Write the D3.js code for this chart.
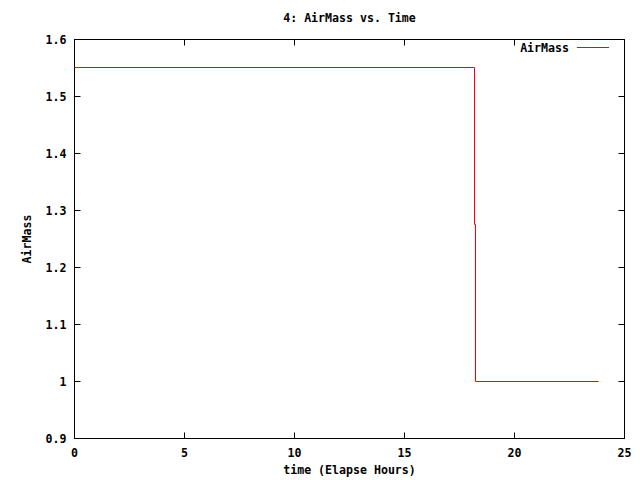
<!DOCTYPE html>
<html><head><meta charset="utf-8">
<script src="https://cdn.jsdelivr.net/npm/d3@7"></script>
<style>body{margin:0;background:#fff}svg{display:block}text{font-family:"DejaVu Sans Mono",monospace;font-weight:bold;font-size:11.6px;fill:#000}</style>
</head><body>
<script>
const title = "4: AirMass vs. Time";
const xLabel = "time (Elapse Hours)";
const yLabel = "AirMass";
const seriesName = "AirMass";
const times = [0, 18.18, 18.19, 18.23, 18.24, 23.84];
const airMass = [1.551, 1.551, 1.275, 1.275, 1.0, 1.0];
const xTicks = [0, 5, 10, 15, 20, 25];
const yTicks = [0.9, 1, 1.1, 1.2, 1.3, 1.4, 1.5, 1.6];

const W = 640, H = 480;
const L = 74.5, R = 624.5, T = 39.5, B = 438.5;
const svg = d3.select("body").append("svg").attr("width", W).attr("height", H);
const x = d3.scaleLinear().domain([0, 25]).range([L, R]);
const y = d3.scaleLinear().domain([0.9, 1.6]).range([B, T]);
const tl = 6;

const g = svg.append("g");
xTicks.forEach(v => {
  const px = Math.round(x(v) - 0.5) + 0.5;
  g.append("line").attr("x1", px).attr("x2", px).attr("y1", B).attr("y2", B - tl).attr("stroke", "#000");
  g.append("line").attr("x1", px).attr("x2", px).attr("y1", T).attr("y2", T + tl).attr("stroke", "#000");
  g.append("text").attr("x", px).attr("y", B + 18).attr("text-anchor", "middle").text(d3.format("")(v));
});
yTicks.forEach(v => {
  const py = Math.round(y(v) - 0.5) + 0.5;
  g.append("line").attr("x1", L).attr("x2", L + tl).attr("y1", py).attr("y2", py).attr("stroke", "#000");
  g.append("line").attr("x1", R).attr("x2", R - tl).attr("y1", py).attr("y2", py).attr("stroke", "#000");
  g.append("text").attr("x", L - 8).attr("y", py + 4).attr("text-anchor", "end").text(d3.format("")(+v.toFixed(1)));
});
g.append("rect").attr("x", L).attr("y", T).attr("width", R - L).attr("height", B - T).attr("fill", "none").attr("stroke", "#000");

const data = times.map((t, i) => [t, airMass[i]]);
svg.append("path").datum(data)
  .attr("d", d3.line().x(d => Math.round(x(d[0]) - 0.5) + 0.5).y(d => Math.round(y(d[1]) - 0.5) + 0.5))
  .attr("fill", "none").attr("stroke", "#ff0000").attr("stroke-width", 1);

svg.append("text").attr("x", 569).attr("y", 52).attr("text-anchor", "end").text(seriesName);
svg.append("line").attr("x1", 577).attr("x2", 609).attr("y1", 47.5).attr("y2", 47.5).attr("stroke", "#ff0000");

svg.append("text").attr("x", (L + R) / 2).attr("y", 22).attr("text-anchor", "middle").text(title);
svg.append("text").attr("x", (L + R) / 2).attr("y", 474).attr("text-anchor", "middle").text(xLabel);
svg.append("text").attr("transform", "translate(31," + ((T + B) / 2) + ") rotate(-90)").attr("text-anchor", "middle").text(yLabel);
</script>
</body></html>
